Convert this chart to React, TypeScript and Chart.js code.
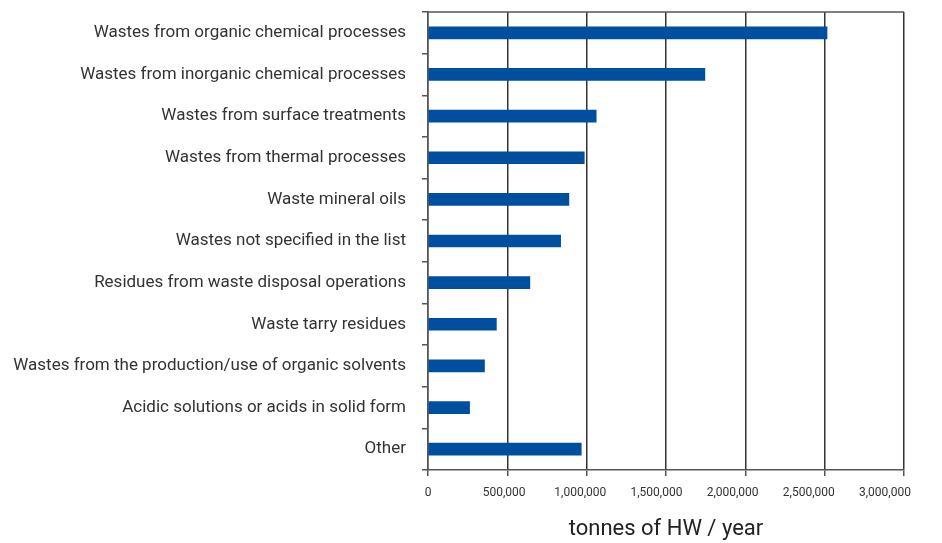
import React, { useEffect, useRef } from "react";
import { Chart, registerables } from "chart.js";

Chart.register(...registerables);

const categories = [
  "Wastes from organic chemical processes",
  "Wastes from inorganic chemical processes",
  "Wastes from surface treatments",
  "Wastes from thermal processes",
  "Waste mineral oils",
  "Wastes not specified in the list",
  "Residues from waste disposal operations",
  "Waste tarry residues",
  "Wastes from the production/use of organic solvents",
  "Acidic solutions or acids in solid form",
  "Other",
];

const values = [
  2515000, 1745000, 1060000, 985000, 888000, 836000, 642000, 431000, 356000,
  262000, 966000,
];

const xTicks = [0, 500000, 1000000, 1500000, 2000000, 2500000, 3000000];
const xMax = 3000000;
// the printed tick labels sit on a slightly compressed scale in the original
const labelAxisMax = 3125000;

const frameTop = {
  id: "frameTop",
  afterDraw(chart: any) {
    const { ctx, chartArea } = chart;
    ctx.save();
    ctx.strokeStyle = "#555555";
    ctx.lineWidth = 1.5;
    ctx.beginPath();
    ctx.moveTo(chartArea.left, chartArea.top);
    ctx.lineTo(chartArea.right, chartArea.top);
    ctx.stroke();
    ctx.restore();
  },
};

export default function App() {
  const ref = useRef<HTMLCanvasElement | null>(null);
  useEffect(() => {
    document.body.style.margin = "0";
    const chart = new Chart(ref.current!, {
      type: "bar",
      data: {
        labels: categories,
        datasets: [
          {
            data: values,
            backgroundColor: "#004f9e",
            barThickness: 12,
            xAxisID: "x",
            yAxisID: "y",
          },
        ],
      },
      plugins: [frameTop],
      options: {
        indexAxis: "y",
        animation: false,
        responsive: false,
        layout: { padding: { top: 12, right: 38, bottom: 0, left: 0 } },
        plugins: { legend: { display: false }, tooltip: { enabled: false } },
        scales: {
          x: {
            position: "bottom",
            weight: 0,
            min: 0,
            max: xMax,
            afterBuildTicks: (scale: any) => {
              scale.ticks = xTicks.map((v) => ({ value: v }));
            },
            afterFit: (scale: any) => {
              scale.height = 6;
              scale.paddingLeft = 0;
              scale.paddingRight = 0;
            },
            grid: {
              color: "#333333",
              lineWidth: 1.5,
              tickLength: 6,
              tickColor: "#555555",
            },
            border: { color: "#555555", width: 1.5 },
            ticks: { display: false },
          },
          x2: {
            type: "linear",
            position: "bottom",
            weight: 1,
            min: 0,
            max: labelAxisMax,
            afterBuildTicks: (scale: any) => {
              scale.ticks = xTicks.map((v) => ({ value: v }));
            },
            afterFit: (scale: any) => {
              scale.height = 67;
              scale.paddingLeft = 0;
              scale.paddingRight = 0;
            },
            grid: { display: false, drawTicks: false },
            border: { display: false },
            ticks: {
              color: "#333333",
              padding: 10,
              maxRotation: 0,
              autoSkip: false,
              font: { family: "Roboto", size: 12 },
              callback: (v: any) => Number(v).toLocaleString("en-US"),
            },
            title: {
              display: true,
              text: "tonnes of HW / year",
              color: "#222222",
              font: { family: "Roboto", size: 22 },
              padding: { top: 0, bottom: 0 },
            },
          },
          y: {
            afterFit: (scale: any) => {
              scale.width = 428;
              scale.paddingTop = 0;
              scale.paddingBottom = 0;
            },
            grid: {
              offset: true,
              drawOnChartArea: false,
              drawTicks: true,
              tickLength: 6,
              tickColor: "#555555",
              lineWidth: 1.5,
            },
            border: { color: "#555555", width: 1.5 },
            ticks: {
              color: "#333333",
              padding: 16,
              font: { family: "Roboto", size: 17 },
            },
          },
        },
      },
    } as any);
    return () => chart.destroy();
  }, []);
  return (
    <div style={{ position: "fixed", left: 0, top: 0, width: 942, height: 543 }}>
      <canvas ref={ref} width={942} height={543} />
    </div>
  );
}
